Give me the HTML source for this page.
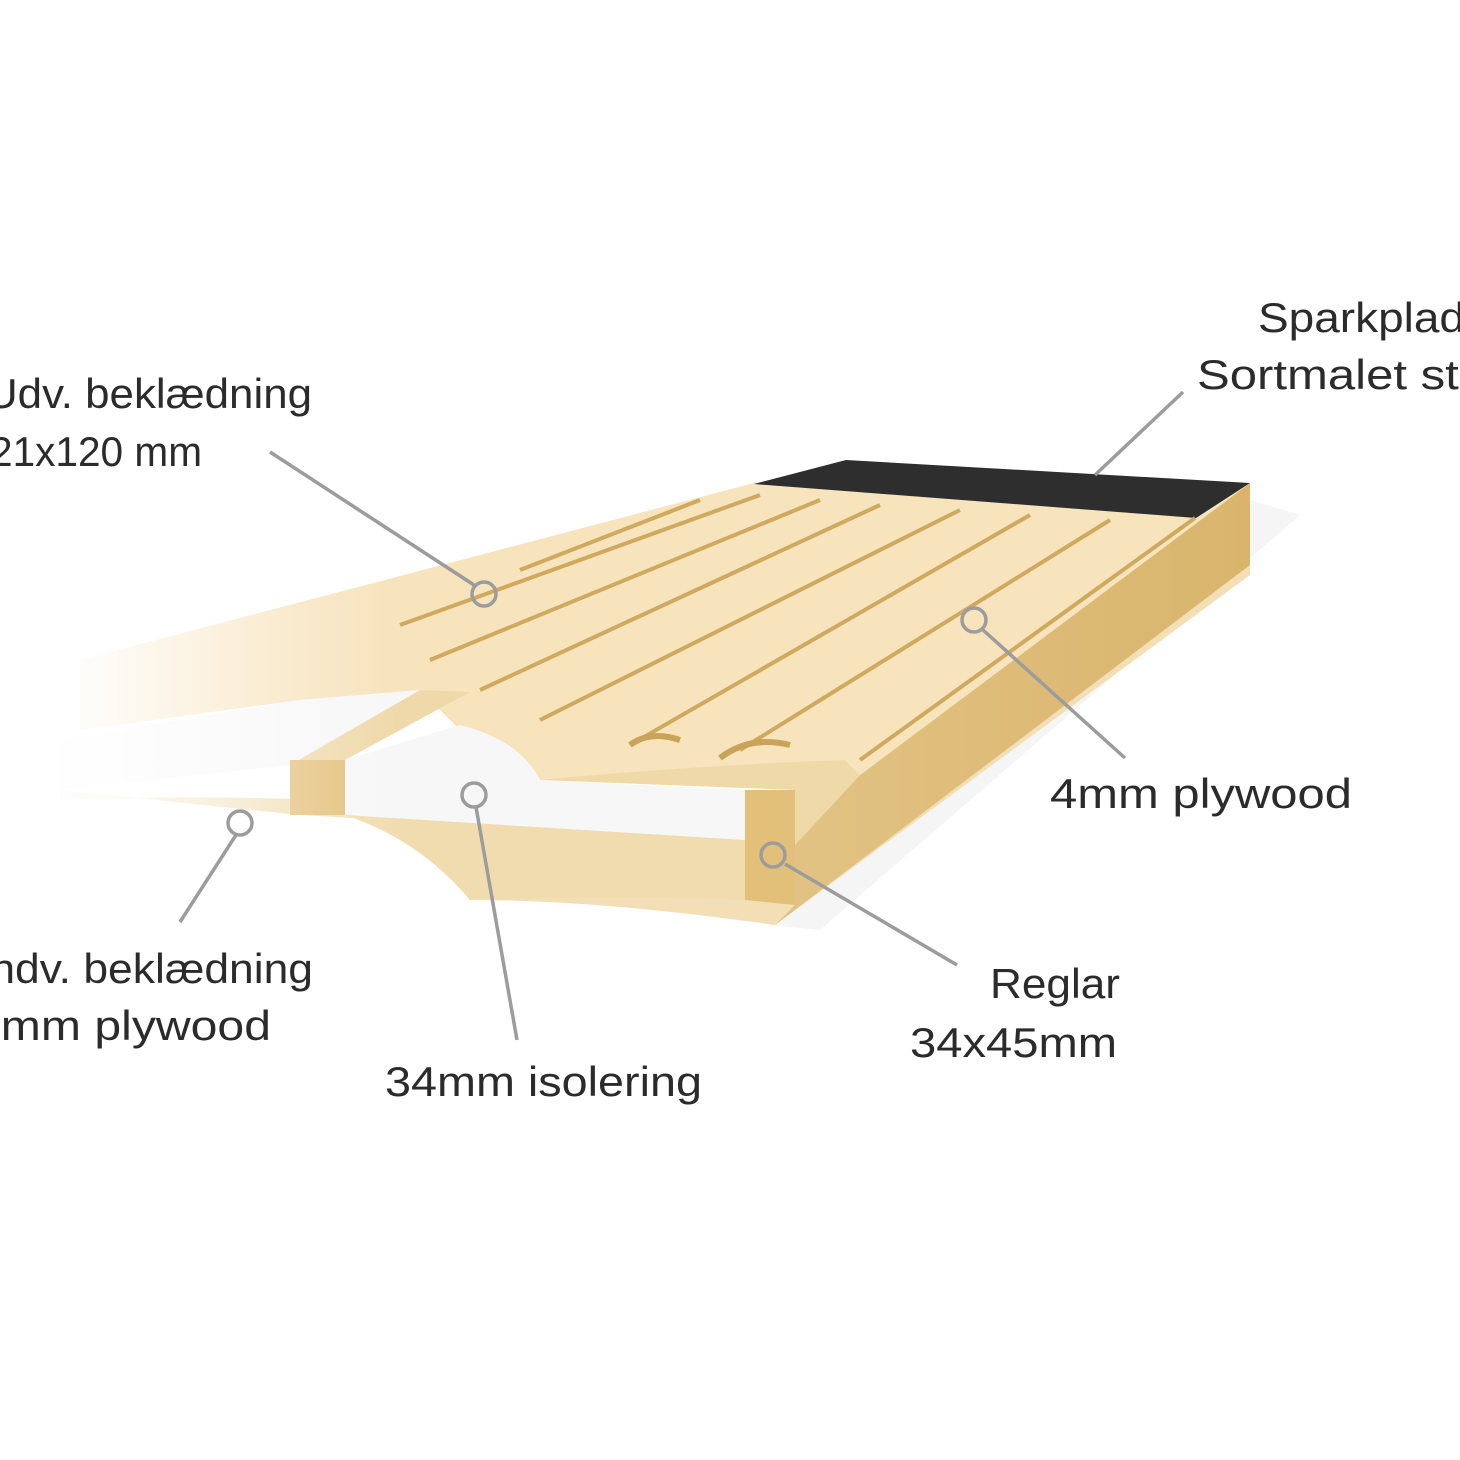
<!DOCTYPE html>
<html><head><meta charset="utf-8"><style>
html,body{margin:0;padding:0;background:#fff;}
svg{display:block}
text{font-family:"Liberation Sans",sans-serif;fill:#2b2b2b;font-size:42px;}
</style></head><body>
<svg width="1460" height="1460" viewBox="0 0 1460 1460" xmlns="http://www.w3.org/2000/svg">
<defs>
<linearGradient id="fade" x1="0" y1="0" x2="1" y2="0">
<stop offset="0" stop-color="#fff" stop-opacity="1"/>
<stop offset="0.12" stop-color="#fff" stop-opacity="0.9"/>
<stop offset="0.35" stop-color="#fff" stop-opacity="0.3"/>
<stop offset="0.5" stop-color="#fff" stop-opacity="0"/>
</linearGradient>
<linearGradient id="side" x1="0" y1="0" x2="1" y2="0">
<stop offset="0" stop-color="#e2c384"/><stop offset="1" stop-color="#d9b56c"/>
</linearGradient>
</defs>
<path d="M1250,500 L1300,515 L820,930 L770,925 Z" fill="#eee" opacity="0.6"/>
<path d="M60,790 L300,815 L745,840 L1250,560 L1250,575 L775,925 Q600,900 470,900 Q420,840 330,800 Q200,795 60,800 Z" fill="#f3dfb6"/>
<path d="M1250,483 L1250,565 L775,925 L795,905 L795,845 L860,775 Z" fill="url(#side)"/>
<path d="M80,660 L754,483 L1250,483 L860,775 L845,760 Q720,770 540,780 Q520,740 460,730 L420,690 L300,700 L80,730 Z" fill="#f7e3bc"/>
<path d="M754,484 L846,460 L1250,483 L1196,518 Z" fill="#2e2e2e"/>
<g stroke="#cfa95e" stroke-width="4" fill="none">
<line x1="1195" y1="518" x2="860" y2="760"/>
<line x1="1110" y1="520" x2="740" y2="750"/>
<line x1="1030" y1="515" x2="630" y2="745"/>
<line x1="960" y1="510" x2="540" y2="720"/>
<line x1="880" y1="505" x2="480" y2="690"/>
<line x1="820" y1="500" x2="430" y2="660"/>
<line x1="760" y1="495" x2="400" y2="625"/>
<line x1="700" y1="500" x2="520" y2="570"/>
</g>
<path d="M630,745 Q650,730 680,740 M720,758 Q750,735 790,745" stroke="#c9a458" stroke-width="6" fill="none"/>
<path d="M60,740 L300,700 L420,690 L345,760 L290,765 L60,790 Z" fill="#f7f7f7"/>
<path d="M290,765 L420,690 L470,692 L345,760 Z" fill="#efd9aa"/>
<rect x="290" y="760" width="55" height="55" fill="#e3c07a"/>
<path d="M345,760 L460,725 Q520,740 540,780 L745,790 L745,840 L345,815 Z" fill="#f7f7f7"/>
<path d="M745,790 L795,790 L795,905 L745,900 Z" fill="#e3c07a"/>
<path d="M540,780 Q700,765 845,760 L860,775 L795,845 L795,790 Z" fill="#f0d9a8"/>
<path d="M345,815 L745,840 L745,900 Q600,895 470,900 Q420,840 345,815 Z" fill="#f1dcaf"/>
<rect x="0" y="450" width="800" height="500" fill="url(#fade)"/>
<g stroke="#9c9c9c" stroke-width="3.5" fill="none">
<line x1="270" y1="452" x2="474" y2="585"/>
<circle cx="484" cy="594" r="12"/>
<line x1="1183" y1="392" x2="1095" y2="475"/>
<line x1="983" y1="630" x2="1125" y2="758"/>
<circle cx="974" cy="620" r="12"/>
<line x1="785" y1="864" x2="957" y2="965"/>
<circle cx="773" cy="855" r="12"/>
<line x1="476" y1="807" x2="517" y2="1040"/>
<circle cx="474" cy="795" r="12"/>
<line x1="236" y1="835" x2="180" y2="922"/>
<circle cx="240" cy="823" r="12"/>
</g>
<text x="1258" y="332" textLength="207" lengthAdjust="spacingAndGlyphs">Sparkplad</text>
<text x="1197" y="389" textLength="300" lengthAdjust="spacingAndGlyphs">Sortmalet stål</text>
<text x="-14" y="408" textLength="326" lengthAdjust="spacingAndGlyphs">Udv. beklædning</text>
<text x="-10" y="466" textLength="212" lengthAdjust="spacingAndGlyphs">21x120 mm</text>
<text x="1050" y="808" textLength="302" lengthAdjust="spacingAndGlyphs">4mm plywood</text>
<text x="-22" y="983" textLength="335" lengthAdjust="spacingAndGlyphs">Indv. beklædning</text>
<text x="-26" y="1040" textLength="297" lengthAdjust="spacingAndGlyphs">4mm plywood</text>
<text x="990" y="998" textLength="130" lengthAdjust="spacingAndGlyphs">Reglar</text>
<text x="910" y="1057" textLength="207" lengthAdjust="spacingAndGlyphs">34x45mm</text>
<text x="385" y="1096" textLength="317" lengthAdjust="spacingAndGlyphs">34mm isolering</text>
</svg>
</body></html>
